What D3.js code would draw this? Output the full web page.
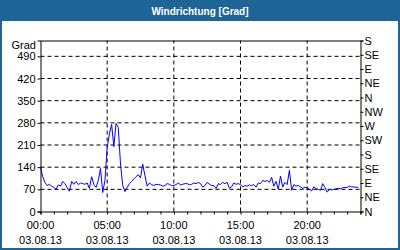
<!DOCTYPE html>
<html>
<head>
<meta charset="utf-8">
<script src="https://cdn.jsdelivr.net/npm/d3@7"></script>
<style>
  body { margin: 0; background: #fff; }
  text { font-family: "Liberation Sans", Arial, sans-serif; font-size: 11px; fill: #000; }
</style>
</head>
<body>
<div id="chart"></div>
<script>
// Windrichtung, 10-Minuten-Werte vom 03.08.13
var windDir = [
  140, 110, 92, 82, 86, 80,     // 00:00
  76, 70, 84, 80, 95, 88,       // 01:00
  75, 64, 95, 86, 95, 85,       // 02:00
  90, 88, 86, 90, 73, 110,      // 03:00
  85, 76, 98, 136, 60, 98,      // 04:00
  200, 245, 275, 205, 278, 265, // 05:00
  150, 82, 63, 76, 88, 95,      // 06:00
  103, 110, 116, 106, 150, 113, // 07:00
  80, 90, 85, 82, 86, 85,       // 08:00
  84, 80, 82, 88, 86, 82,       // 09:00
  82, 85, 90, 84, 86, 88,       // 10:00
  88, 84, 86, 90, 88, 92,       // 11:00
  88, 77, 82, 92, 86, 82,       // 12:00
  82, 73, 88, 85, 92, 88,       // 13:00
  92, 73, 78, 90, 86, 88,       // 14:00
  85, 77, 82, 80, 84, 82,       // 15:00
  85, 77, 90, 88, 98, 95,       // 16:00
  98, 92, 108, 80, 95, 70,      // 17:00
  112, 77, 92, 85, 130, 67,     // 18:00
  85, 80, 82, 78, 73, 76,       // 19:00
  76, 70, 65, 78, 72, 70,       // 20:00
  67, 88, 76, 61, 70, 68,       // 21:00
  70, 72, 73, 72, 75, 76,       // 22:00
  76, 80, 78, 77, 77, 76        // 23:00
];

var leftTicks = [0, 70, 140, 210, 280, 350, 420, 490];
var rightTicks = [0, 45, 90, 135, 180, 225, 270, 315, 360, 405, 450, 495, 540];
var rightLabels = ["N", "NE", "E", "SE", "S", "SW", "W", "NW", "N", "NE", "E", "SE", "S"];
var timeTicks = ["00:00", "05:00", "10:00", "15:00", "20:00"];
var dateLabel = "03.08.13";

var svgWidth = 400, svgHeight = 250;
var parseTime = d3.timeParse("%d.%m.%y %H:%M");
var start = parseTime(dateLabel + " 00:00");
var end = d3.timeDay.offset(start, 1);
var times = d3.timeMinute.every(10).range(start, end);

var svg = d3.select("#chart").append("svg")
    .attr("width", svgWidth)
    .attr("height", svgHeight);

// Rahmen und Titelleiste
svg.append("rect")
    .attr("x", 1).attr("y", 1)
    .attr("width", svgWidth - 2).attr("height", svgHeight - 2)
    .attr("fill", "#fff")
    .attr("stroke", "#1f6497")
    .attr("stroke-width", 2);
svg.append("rect")
    .attr("x", 0).attr("y", 0)
    .attr("width", svgWidth).attr("height", 21)
    .attr("fill", "#1f6497");
svg.append("text")
    .attr("x", svgWidth / 2).attr("y", 15)
    .attr("text-anchor", "middle")
    .style("fill", "#fff")
    .style("font-weight", "bold")
    .style("font-size", "10px")
    .text("Windrichtung [Grad]");

var x = d3.scaleTime().domain([start, end]).range([40.5, 360.5]);
var y = d3.scaleLinear().domain([0, 540]).range([211.5, 40.5]);

// Gitterlinien
var grid = svg.append("g")
    .attr("stroke", "#000")
    .attr("stroke-dasharray", "4,3");
grid.selectAll(".hgrid")
    .data(leftTicks.filter(d => d > 0))
    .enter().append("line")
    .attr("x1", x.range()[0]).attr("x2", x.range()[1])
    .attr("y1", d => y(d)).attr("y2", d => y(d));
grid.selectAll(".vgrid")
    .data(timeTicks.slice(1).map(t => parseTime(dateLabel + " " + t)))
    .enter().append("line")
    .attr("x1", d => x(d)).attr("x2", d => x(d))
    .attr("y1", y.range()[0]).attr("y2", y.range()[1]);

// Datenlinie
var line = d3.line()
    .x((d, i) => x(times[i]))
    .y(d => y(d));
svg.append("path")
    .datum(windDir)
    .attr("fill", "none")
    .attr("stroke", "#0000ff")
    .attr("stroke-width", 1)
    .attr("d", line);

// Achsen
var leftAxis = d3.axisLeft(y).tickValues(leftTicks).tickSize(3).tickPadding(2);
var rightAxis = d3.axisRight(y).tickValues(rightTicks).tickSize(3).tickPadding(1)
    .tickFormat((d, i) => rightLabels[i]);
var bottomAxis = d3.axisBottom(x).ticks(d3.timeHour.every(1)).tickSize(3).tickFormat("");
var topAxis = d3.axisTop(x).tickValues([]).tickSizeOuter(0);

svg.append("g").attr("transform", "translate(40.5,0)").call(leftAxis);
svg.append("g").attr("transform", "translate(360.5,0)").call(rightAxis);
svg.append("g").attr("transform", "translate(0,211.5)").call(bottomAxis);
svg.append("g").attr("transform", "translate(0,40.5)").call(topAxis);

svg.selectAll(".domain").attr("stroke", "#000");
svg.selectAll(".tick line").attr("stroke", "#000");
svg.selectAll(".tick text")
    .style("font-family", "'Liberation Sans', Arial, sans-serif")
    .style("font-size", "11px")
    .attr("fill", "#000");

// Zeit- und Datumsbeschriftung
var xLabels = svg.append("g").selectAll("g")
    .data(timeTicks)
    .enter().append("g")
    .attr("transform", d => `translate(${x(parseTime(dateLabel + " " + d))},0)`);
xLabels.append("text")
    .attr("y", 229)
    .attr("text-anchor", "middle")
    .text(d => d);
xLabels.append("text")
    .attr("y", 244)
    .attr("text-anchor", "middle")
    .text(dateLabel);

svg.append("text")
    .attr("x", 36).attr("y", 49)
    .attr("text-anchor", "end")
    .text("Grad");
</script>
</body>
</html>
